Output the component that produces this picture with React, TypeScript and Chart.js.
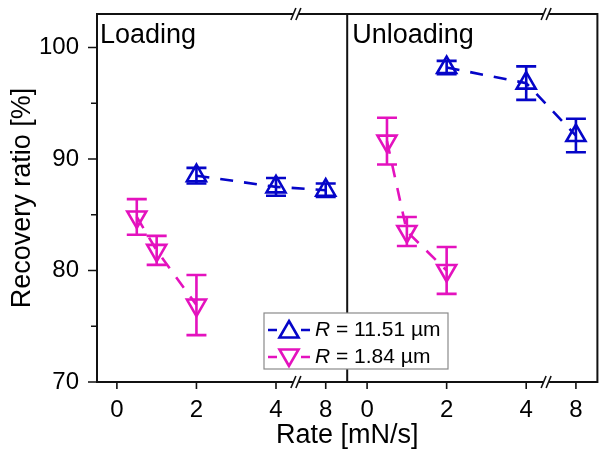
import React, { useEffect, useRef } from 'react';
import { Chart, registerables } from 'chart.js';

Chart.register(...registerables);

// ---------- data ----------
const panelNames = ['Loading', 'Unloading'];
const xTickRates = [0, 2, 4, 8];
const xTickLabels = ['0', '2', '4', '8'];
const yMajorTicks = [70, 80, 90, 100];
const yMinorTicks = [75, 85, 95];

const bigLabel = '11.51 µm';
const bigRates = [2, 4, 8];
const bigLoading = [88.5, 87.5, 87.2];
const bigLoadingErr = [0.7, 0.8, 0.6];
const bigUnloading = [98.2, 96.8, 92.1];
const bigUnloadingErr = [0.6, 1.5, 1.5];

const smallLabel = '1.84 µm';
const smallRates = [0.5, 1, 2];
const smallLoading = [84.8, 81.8, 76.9];
const smallLoadingErr = [1.6, 1.3, 2.7];
const smallUnloading = [91.6, 83.5, 80.0];
const smallUnloadingErr = [2.1, 1.3, 2.1];

// ---------- styling / layout ----------
const FONT = '"Liberation Sans", Arial, Helvetica, sans-serif';
const BLUE = '#0505C8';
const MAGENTA = '#E412BE';
const AXIS = '#111111';
const PANEL_W = 6.29; // axis units per panel
const X_MIN = -0.5;
const BREAK_AT = 4.5;
const BREAK_SHIFT = 2.75;

const localPos = (rate: number) => (rate > BREAK_AT ? rate - BREAK_SHIFT : rate);
const panelPos = (panel: number, rate: number) => panel * PANEL_W + localPos(rate);

const xTickPositions: number[] = [];
const xTickText: string[] = [];
[0, 1].forEach((p) =>
  xTickRates.forEach((r, i) => {
    xTickPositions.push(panelPos(p, r));
    xTickText.push(xTickLabels[i]);
  })
);

type Series = {
  name: string;
  rates: number[];
  values: number[][];
  errs: number[][];
  color: string;
  rotation: number;
};

const series: Series[] = [
  { name: bigLabel, rates: bigRates, values: [bigLoading, bigUnloading], errs: [bigLoadingErr, bigUnloadingErr], color: BLUE, rotation: 0 },
  { name: smallLabel, rates: smallRates, values: [smallLoading, smallUnloading], errs: [smallLoadingErr, smallUnloadingErr], color: MAGENTA, rotation: 180 },
];

function triangle(ctx: CanvasRenderingContext2D, x: number, y: number, r: number, rot: number) {
  let rad = (rot * Math.PI) / 180;
  ctx.beginPath();
  for (let k = 0; k < 3; k++) {
    const px = x + Math.sin(rad) * r;
    const py = y - Math.cos(rad) * r;
    if (k === 0) ctx.moveTo(px, py);
    else ctx.lineTo(px, py);
    rad += (2 * Math.PI) / 3;
  }
  ctx.closePath();
  ctx.stroke();
}

const errorBarPlugin = {
  id: 'errorBars',
  afterDatasetsDraw(chart: any) {
    const ctx: CanvasRenderingContext2D = chart.ctx;
    const yScale = chart.scales.y;
    chart.data.datasets.forEach((ds: any, di: number) => {
      const meta = chart.getDatasetMeta(di);
      ctx.save();
      ctx.strokeStyle = ds.borderColor;
      ctx.lineWidth = 2.6;
      ctx.setLineDash([]);
      meta.data.forEach((pt: any, i: number) => {
        const v = ds.data[i].y;
        const e = ds.errors[i];
        const yt = yScale.getPixelForValue(v + e);
        const yb = yScale.getPixelForValue(v - e);
        const x = pt.x;
        ctx.beginPath();
        ctx.moveTo(x, yt);
        ctx.lineTo(x, yb);
        ctx.moveTo(x - 10, yt);
        ctx.lineTo(x + 10, yt);
        ctx.moveTo(x - 10, yb);
        ctx.lineTo(x + 10, yb);
        ctx.stroke();
      });
      ctx.restore();
    });
  },
};

const framePlugin = {
  id: 'frame',
  afterDraw(chart: any) {
    const ctx: CanvasRenderingContext2D = chart.ctx;
    const { left, right, top, bottom } = chart.chartArea;
    const xs = chart.scales.x;
    const ys = chart.scales.y;
    const breaks = [0, 1].map((p) => xs.getPixelForValue(p * PANEL_W + BREAK_AT));
    const divider = xs.getPixelForValue(PANEL_W + X_MIN);

    ctx.save();
    ctx.strokeStyle = AXIS;
    ctx.lineWidth = 2;
    ctx.setLineDash([]);
    ctx.lineCap = 'butt';

    // vertical lines
    ctx.beginPath();
    ctx.moveTo(left, top - 1);
    ctx.lineTo(left, bottom + 1);
    ctx.moveTo(right, top - 1);
    ctx.lineTo(right, bottom + 1);
    ctx.moveTo(divider, top);
    ctx.lineTo(divider, bottom);
    ctx.stroke();

    // top & bottom lines with gaps at breaks
    const gap = 3;
    [top, bottom].forEach((y) => {
      ctx.beginPath();
      let start = left;
      breaks.forEach((b) => {
        ctx.moveTo(start, y);
        ctx.lineTo(b - gap, y);
        start = b + gap;
      });
      ctx.moveTo(start, y);
      ctx.lineTo(right, y);
      ctx.stroke();
      // break marks
      ctx.lineWidth = 1.6;
      breaks.forEach((b) => {
        [-2.5, 2.5].forEach((dx) => {
          ctx.beginPath();
          ctx.moveTo(b + dx - 2.5, y + 6);
          ctx.lineTo(b + dx + 2.5, y - 6);
          ctx.stroke();
        });
      });
      ctx.lineWidth = 2;
    });

    // y ticks
    ctx.lineWidth = 1.6;
    ctx.beginPath();
    yMajorTicks.forEach((v) => {
      const y = ys.getPixelForValue(v);
      ctx.moveTo(left, y);
      ctx.lineTo(left - 9, y);
    });
    yMinorTicks.forEach((v) => {
      const y = ys.getPixelForValue(v);
      ctx.moveTo(left, y);
      ctx.lineTo(left - 6, y);
    });
    // x ticks
    xTickPositions.forEach((p) => {
      const x = xs.getPixelForValue(p);
      ctx.moveTo(x, bottom);
      ctx.lineTo(x, bottom + 7);
    });
    ctx.stroke();

    // panel names
    ctx.fillStyle = '#000';
    ctx.font = `27px ${FONT}`;
    ctx.textBaseline = 'alphabetic';
    ctx.textAlign = 'left';
    ctx.fillText(panelNames[0], left + 3, top + 29);
    ctx.fillText(panelNames[1], divider + 5, top + 29);

    // legend
    const lx = left + 167;
    const ly = top + 299;
    const lw = 184;
    const lh = 56;
    ctx.fillStyle = '#ffffff';
    ctx.fillRect(lx, ly, lw, lh);
    ctx.strokeStyle = '#8a8a8a';
    ctx.lineWidth = 1.2;
    ctx.strokeRect(lx, ly, lw, lh);
    series.forEach((s, i) => {
      const cy = ly + 17 + i * 27;
      const mx = lx + 25;
      ctx.strokeStyle = s.color;
      ctx.lineWidth = 2.6;
      ctx.beginPath();
      ctx.moveTo(lx + 4, cy);
      ctx.lineTo(lx + 13, cy);
      ctx.moveTo(lx + 37, cy);
      ctx.lineTo(lx + 46, cy);
      ctx.stroke();
      const off = s.rotation === 0 ? 2 : -2;
      triangle(ctx, mx, cy + off, 11, s.rotation);
      ctx.fillStyle = '#000';
      ctx.textBaseline = 'middle';
      ctx.font = `italic 21px ${FONT}`;
      const tx = lx + 51;
      ctx.fillText('R', tx, cy);
      const w = ctx.measureText('R').width;
      ctx.font = `21px ${FONT}`;
      ctx.fillText(' = ' + s.name, tx + w, cy);
    });
    ctx.restore();
  },
};

export default function App() {
  const ref = useRef<HTMLCanvasElement | null>(null);

  useEffect(() => {
    document.body.style.margin = '0';
    if (!ref.current) return;

    const datasets: any[] = [];
    series.forEach((s) => {
      [0, 1].forEach((p) => {
        datasets.push({
          label: s.name,
          data: s.rates.map((r, i) => ({ x: panelPos(p, r), y: s.values[p][i] })),
          errors: s.errs[p],
          borderColor: s.color,
          borderWidth: 2.6,
          borderDash: [13, 11],
          pointStyle: 'triangle',
          pointRotation: s.rotation,
          pointRadius: 11,
          pointBorderWidth: 2.6,
          pointBorderColor: s.color,
          pointBackgroundColor: 'rgba(0,0,0,0)',
          showLine: true,
          tension: 0,
          clip: false,
        });
      });
    });

    const chart = new Chart(ref.current, {
      type: 'line',
      data: { datasets },
      options: {
        responsive: false,
        animation: false,
        layout: { padding: { top: 14, right: 2, left: 0, bottom: 0 } },
        plugins: { legend: { display: false }, tooltip: { enabled: false } },
        scales: {
          x: {
            type: 'linear',
            min: X_MIN,
            max: 2 * PANEL_W + X_MIN,
            grid: { display: false },
            border: { display: false },
            afterBuildTicks: (s: any) => {
              s.ticks = xTickPositions.map((v) => ({ value: v }));
            },
            afterFit: (s: any) => {
              s.height = 67;
              s.paddingLeft = 0;
              s.paddingRight = 0;
            },
            ticks: {
              autoSkip: false,
              maxRotation: 0,
              padding: 6,
              color: '#000',
              font: { family: FONT, size: 24, lineHeight: 1.2 },
              callback: (v: any) => {
                const idx = xTickPositions.findIndex((p) => Math.abs(p - Number(v)) < 1e-6);
                return idx >= 0 ? xTickText[idx] : '';
              },
            },
            title: {
              display: true,
              text: 'Rate [mN/s]',
              color: '#000',
              font: { family: FONT, size: 27, lineHeight: 1 },
              padding: { top: 0, bottom: 0 },
            },
          },
          y: {
            type: 'linear',
            min: 70,
            max: 103,
            grid: { display: false },
            border: { display: false },
            afterBuildTicks: (s: any) => {
              s.ticks = yMajorTicks.map((v) => ({ value: v }));
            },
            afterFit: (s: any) => {
              s.width = 97;
              s.paddingTop = 0;
              s.paddingBottom = 0;
            },
            ticks: {
              padding: 10,
              color: '#000',
              font: { family: FONT, size: 24, lineHeight: 1.2 },
              callback: (v: any) => String(v),
            },
            title: {
              display: true,
              text: 'Recovery ratio [%]',
              color: '#000',
              font: { family: FONT, size: 27, lineHeight: 1 },
              padding: { top: 9, bottom: 0 },
            },
          },
        },
      },
      plugins: [errorBarPlugin, framePlugin],
    } as any);

    return () => chart.destroy();
  }, []);

  return (
    <div style={{ width: 611, height: 449 }}>
      <canvas ref={ref} width={611} height={449} style={{ display: 'block' }} />
    </div>
  );
}
